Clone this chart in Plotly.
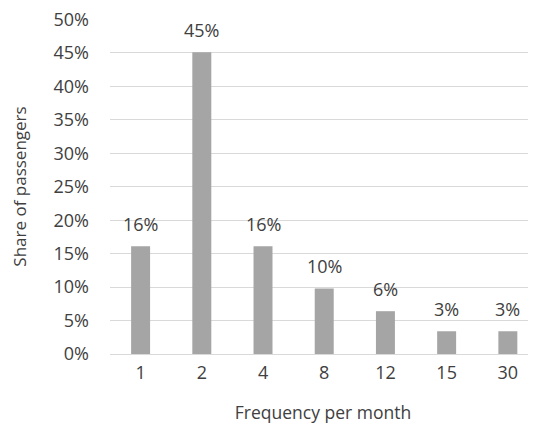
import plotly.graph_objects as go

categories = ["1", "2", "4", "8", "12", "15", "30"]
shares = [0.161, 0.451, 0.161, 0.098, 0.064, 0.034, 0.034]
labels = ["16%", "45%", "16%", "10%", "6%", "3%", "3%"]
y_ticks = [0, 0.05, 0.10, 0.15, 0.20, 0.25, 0.30, 0.35, 0.40, 0.45, 0.50]

font_family = "Open Sans, sans-serif"
text_color = "#404040"
fs = 18

fig = go.Figure()
fig.add_trace(go.Bar(
    x=categories, y=shares,
    marker=dict(color="#a5a5a5", line=dict(width=0)),
    width=0.31,
    hoverinfo="skip",
))

for i, (v, t) in enumerate(zip(shares, labels)):
    fig.add_annotation(x=i, xref="x", y=v, text=t, showarrow=False, yanchor="bottom",
                       yshift=8, font=dict(family=font_family, size=fs, color=text_color))

fig.update_layout(
    width=528, height=418,
    margin=dict(l=102, r=0, t=11, b=72, autoexpand=False),
    paper_bgcolor="white", plot_bgcolor="white",
    showlegend=False,
    font=dict(family=font_family, size=fs, color=text_color),
    xaxis=dict(
        type="category", range=[-0.5, 6.46], automargin=False,
        showgrid=False, showline=False, zeroline=False,
        ticks="", ticklabelstandoff=6,
        title=dict(text="Frequency per month", standoff=23,
                   font=dict(size=17.5, color=text_color)),
    ),
    yaxis=dict(
        range=[0, 0.5008], tickvals=y_ticks, tickformat=".0%", automargin=False,
        ticklabeloverflow="allow",
        showgrid=True, gridcolor="#d9d9d9", gridwidth=1,
        zeroline=True, zerolinecolor="#d9d9d9", zerolinewidth=1,
        showline=False, ticks="", ticklabelstandoff=20,
        title=dict(text="Share of passengers", standoff=28,
                   font=dict(size=17, color=text_color)),
    ),
)

fig.write_html("out.html")
